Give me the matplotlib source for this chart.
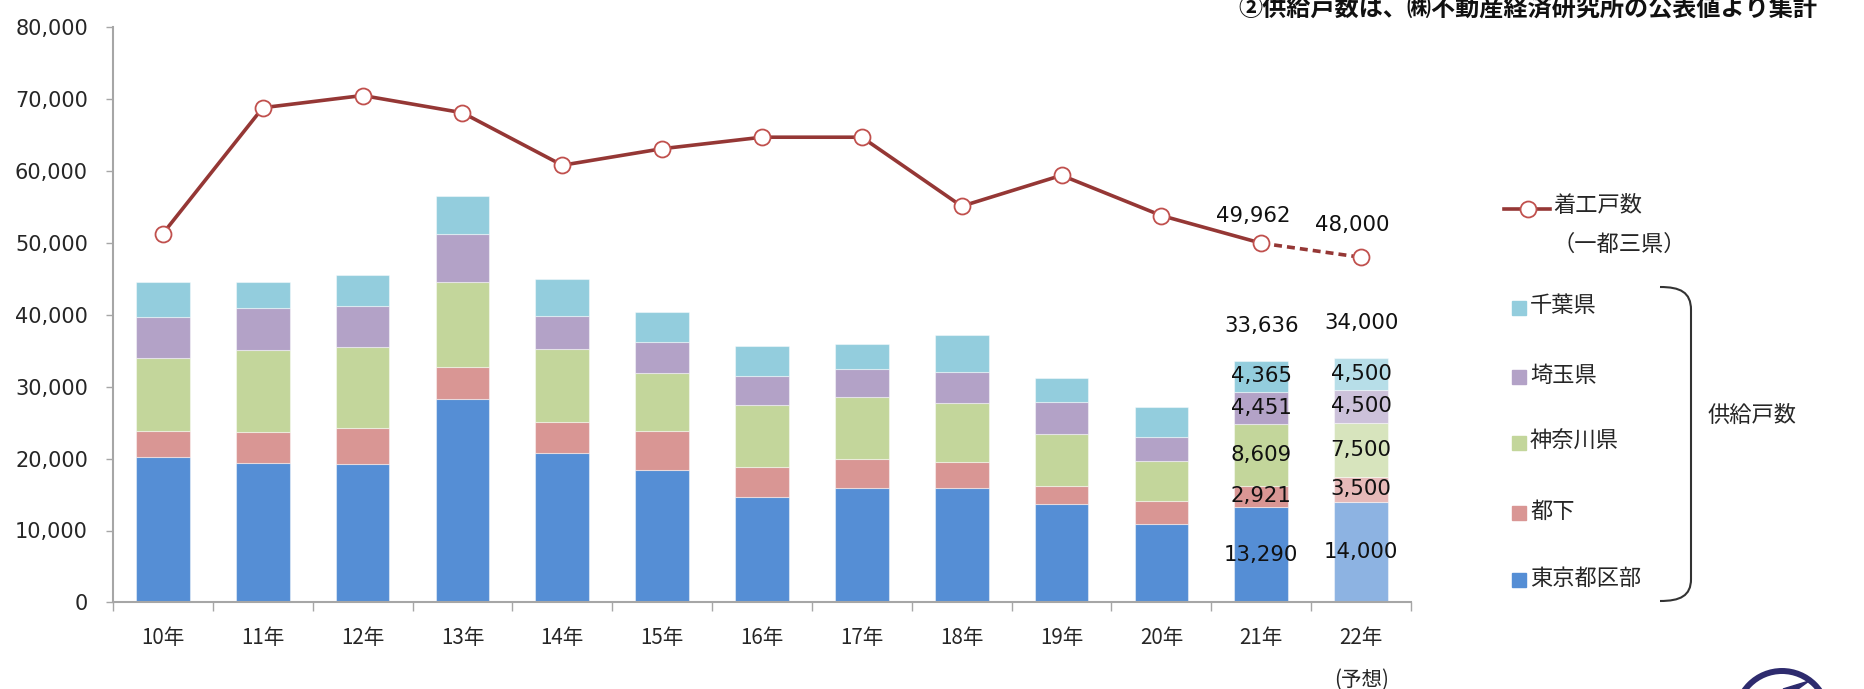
import matplotlib
matplotlib.use('Agg')
import matplotlib.pyplot as plt
import matplotlib.transforms as mtransforms
from matplotlib.patches import Rectangle, PathPatch, Circle, Polygon
from matplotlib.path import Path
from matplotlib.lines import Line2D
import numpy as np

plt.rcParams['font.family'] = ['Noto Sans CJK JP', 'DejaVu Sans']

# ---------------- data ----------------
years = ['10年', '11年', '12年', '13年', '14年', '15年', '16年',
         '17年', '18年', '19年', '20年', '21年', '22年']
series_names = ['東京都区部', '都下', '神奈川県', '埼玉県', '千葉県']
tokyo_ku = [20270, 19430, 19290, 28250, 20740, 18410, 14700, 15910, 15910, 13690, 10900, 13290, 14000]
toka = [3580, 4270, 5010, 4530, 4390, 5430, 4130, 4080, 3660, 2500, 3200, 2921, 3500]
kanagawa = [10110, 11400, 11220, 11740, 10110, 8020, 8620, 8530, 8160, 7190, 5570, 8609, 7500]
saitama = [5740, 5890, 5750, 6720, 4590, 4400, 4000, 3940, 4310, 4530, 3380, 4451, 4500]
chiba = [4830, 3530, 4270, 5280, 5100, 4130, 4250, 3440, 5150, 3260, 4130, 4365, 4500]
starts = [51300, 68800, 70500, 68100, 60800, 63100, 64700, 64700, 55100, 59400, 53800, 49962, 48000]
yticks = [0, 10000, 20000, 30000, 40000, 50000, 60000, 70000, 80000]
labeled_years = [11, 12]       # indices with data labels
forecast_index = 12

colors = ['#558ED5', '#D99694', '#C3D69B', '#B3A2C7', '#93CDDD']
colors_fc = ['#8DB3E2', '#E6B9B8', '#D7E4BD', '#CCC1DA', '#B7DEE8']
line_color = '#953735'
marker_edge = '#C0504D'
text_color = '#262626'

# ---------------- figure ----------------
W, H = 1865, 689
fig = plt.figure(figsize=(W / 100, H / 100), dpi=100)
ax_l, ax_r = 113, 1411
ax_b, ax_t = 602.4, 27.2
ax = fig.add_axes([ax_l / W, 1 - ax_b / H, (ax_r - ax_l) / W, (ax_b - ax_t) / H])

x = np.arange(len(years))
stack = [tokyo_ku, toka, kanagawa, saitama, chiba]
bottom = np.zeros(len(years))
for vals, name, c, cf in zip(stack, series_names, colors, colors_fc):
    vals = np.array(vals, dtype=float)
    cols = [cf if i == forecast_index else c for i in range(len(years))]
    ax.bar(x, vals, 0.537, bottom=bottom, color=cols, edgecolor=(1, 1, 1, 0.45),
           linewidth=0.8, label=name, zorder=2)
    for i in labeled_years:
        ax.text(x[i], bottom[i] + vals[i] / 2, f'{int(vals[i]):,}', ha='center', va='center',
                fontsize=15.3, family='DejaVu Sans', color='#111111', zorder=5)
    bottom += vals

for i in labeled_years:
    ax.annotate(f'{int(bottom[i]):,}', (x[i], bottom[i]), xytext=(0, 25),
                textcoords='offset points', ha='center', va='center',
                fontsize=15.3, family='DejaVu Sans', color='#111111')

# line
ax.plot(x[:12], starts[:12], color=line_color, lw=2.6, zorder=3)
ax.plot(x[11:13], starts[11:13], color=line_color, lw=2.6, ls=(0, (2.2, 1.4)), zorder=3)
ax.plot(x, starts, ls='none', marker='o', ms=11.5, mfc='white', mec=marker_edge,
        mew=1.3, zorder=4)
offs = {11: (-6, 19.5), 12: (-6.5, 23)}
for i in labeled_years:
    ax.annotate(f'{starts[i]:,}', (x[i], starts[i]), xytext=offs[i],
                textcoords='offset points', ha='center', va='center',
                fontsize=15.3, family='DejaVu Sans', color='#111111')

# axes styling
ax.set_xlim(-0.5, len(years) - 0.5)
ax.set_ylim(0, 80000)
ax.set_yticks(yticks)
ax.set_yticklabels([f'{v:,}' for v in yticks], family='DejaVu Sans', fontsize=15, color=text_color)
ax.set_xticks(x)
ax.set_xticklabels(years, fontsize=14.8, color=text_color)
ax.set_xticks(np.arange(-0.5, len(years)), minor=True)
ax.tick_params(axis='x', which='major', length=0, pad=17.5)
ax.tick_params(axis='x', which='minor', length=6.3, color='#A6A6A6', width=1)
ax.tick_params(axis='y', which='major', length=5, color='#A6A6A6', width=1, pad=13)
for s in ['top', 'right']:
    ax.spines[s].set_visible(False)
for s in ['left', 'bottom']:
    ax.spines[s].set_color('#A6A6A6')
    ax.spines[s].set_linewidth(1.5)

trans = mtransforms.blended_transform_factory(ax.transData, ax.transAxes)
ax.text(forecast_index, (ax_b - 680) / (ax_b - ax_t), '(予想)', transform=trans,
        ha='center', va='center', fontsize=14.8, color=text_color, clip_on=False)

# ---------------- overlay (legend, bracket, title, logo) ----------------
ov = fig.add_axes([0, 0, 1, 1], facecolor='none')
ov.set_xlim(0, W)
ov.set_ylim(H, 0)
ov.axis('off')

ov.add_line(Line2D([1504, 1550], [209, 209], color=line_color, lw=2.6))
ov.plot([1528], [209], marker='o', ms=11.5, mfc='white', mec=marker_edge, mew=1.3)
ov.text(1553, 205, '着工戸数', ha='left', va='center', fontsize=16, color=text_color)
ov.text(1553, 244, '（一都三県）', ha='left', va='center', fontsize=16, color=text_color)

leg_y = {'千葉県': 308, '埼玉県': 377, '神奈川県': 443, '都下': 513, '東京都区部': 580}
for name, c in zip(series_names, colors):
    yy = leg_y[name]
    ov.add_patch(Rectangle((1512, yy - 7), 14, 14, color=c))
    ov.text(1530, yy - 2, name, ha='left', va='center', fontsize=16, color=text_color)

verts = [(1660, 287), (1680, 287), (1691, 292), (1691, 310),
         (1691, 579),
         (1691, 596), (1680, 601), (1660, 601)]
codes = [Path.MOVETO, Path.CURVE4, Path.CURVE4, Path.CURVE4,
         Path.LINETO,
         Path.CURVE4, Path.CURVE4, Path.CURVE4]
ov.add_patch(PathPatch(Path(verts, codes), fill=False, edgecolor='#333333', lw=1.5))
ov.text(1708, 415, '供給戸数', ha='left', va='center', fontsize=16, color=text_color)

fig.text(1817 / W, 1 - 10 / H, '②供給戸数は、㈱不動産経済研究所の公表値より集計',
         ha='right', va='center', fontsize=17.4, fontweight='bold', color='#111111')

# logo fragment (bottom right)
ov.add_patch(Circle((1782, 717), 46, fill=False, edgecolor='#2E2B6E', lw=4.3))
ov.add_patch(Polygon([(1783, 689), (1809, 681), (1798, 689)], closed=True, color='#2E2B6E'))

fig.savefig('out.png', dpi=100, facecolor='white')
